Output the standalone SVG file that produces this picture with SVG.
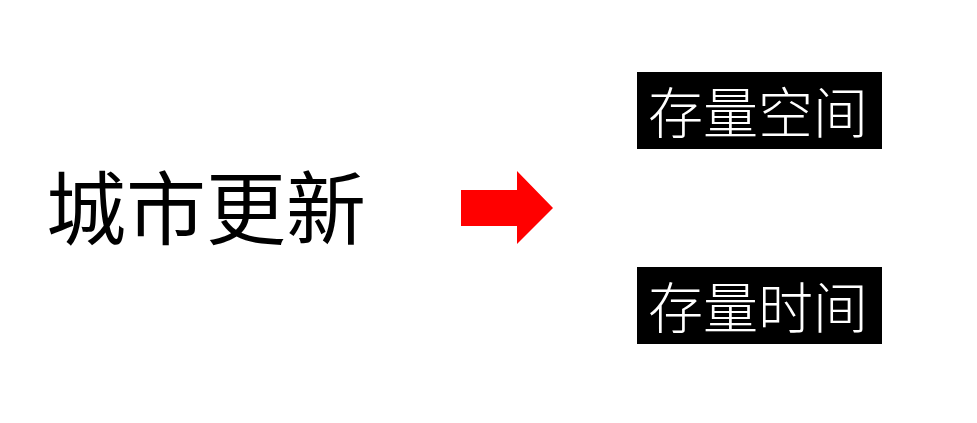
<svg xmlns="http://www.w3.org/2000/svg" width="977" height="423" viewBox="0 0 977 423">
<style>
.lbl{font-family:"Noto Sans CJK SC","Noto Sans",sans-serif;}
.box{fill:#000;}
.wt{fill:#fff;font-size:55px;font-weight:300;}
.big{fill:#000;font-size:80px;}
</style>
<rect width="977" height="423" fill="#fff"/>
<g id="node-urban">
<text class="lbl big" x="46" y="238">城市更新</text>
</g>
<g id="connectors">
<polygon points="461,190 517,190 517,171 553,208 517,244 517,226 461,226" fill="#ff0000"/>
</g>
<g id="node-space">
<rect class="box" x="637" y="72" width="245" height="77"/>
<text class="lbl wt" x="758" y="133" text-anchor="middle">存量空间</text>
</g>
<g id="node-time">
<rect class="box" x="637" y="267" width="245" height="77"/>
<text class="lbl wt" x="758" y="328" text-anchor="middle">存量时间</text>
</g>
</svg>
